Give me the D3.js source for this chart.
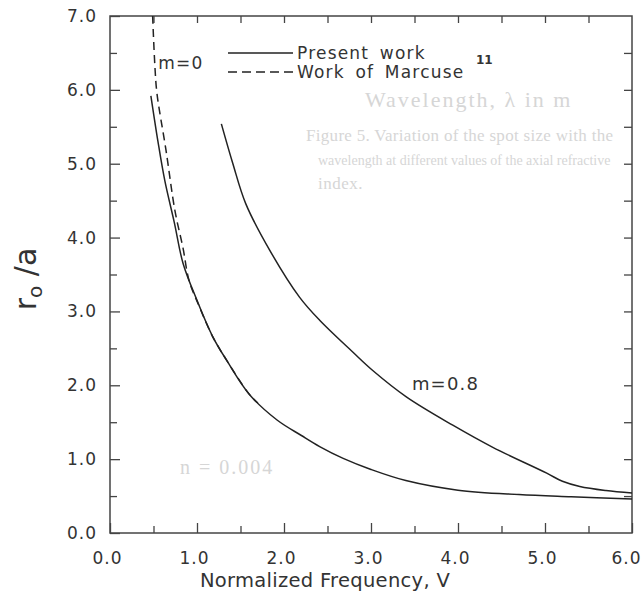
<!DOCTYPE html>
<html>
<head>
<meta charset="utf-8">
<script src="https://cdn.jsdelivr.net/npm/d3@7"></script>
<style>
  html, body { margin: 0; padding: 0; background: #fff; }
  svg { display: block; }
  text { font-family: "DejaVu Sans", sans-serif; fill: #333; }
</style>
</head>
<body>
<svg id="chart" width="642" height="596"></svg>
<script>
// --- data ---
// m=0, present work (solid)
const m0V = [0.47, 0.55, 0.63, 0.74, 0.84, 1.0, 1.18, 1.34, 1.6, 1.92, 2.2, 2.41, 2.68, 3.0, 3.4, 4.0, 4.7, 5.3, 6.0];
const m0R = [5.92, 5.31, 4.77, 4.2, 3.65, 3.15, 2.66, 2.34, 1.88, 1.53, 1.32, 1.17, 1.01, 0.86, 0.71, 0.58, 0.52, 0.49, 0.46];
// m=0, work of Marcuse (dashed)
const marV = [0.49, 0.517, 0.54, 0.644, 0.747, 0.839, 0.908, 1.0, 1.18, 1.34, 1.6, 1.7];
const marR = [7.0, 6.3, 5.95, 5.18, 4.36, 3.86, 3.42, 3.14, 2.66, 2.34, 1.88, 1.76];
// m=0.8, present work (solid)
const m8V = [1.28, 1.41, 1.56, 1.84, 2.18, 2.41, 2.79, 3.02, 3.41, 3.94, 4.4, 5.02, 5.2, 5.4, 5.7, 6.0];
const m8R = [5.54, 5.01, 4.46, 3.82, 3.19, 2.88, 2.45, 2.2, 1.84, 1.46, 1.16, 0.81, 0.7, 0.63, 0.575, 0.54];

const xMajor = [0, 1, 2, 3, 4, 5, 6];
const xMinor = [0.5, 1.5, 2.5, 3.5, 4.5, 5.5];
const yMajor = [0, 1, 2, 3, 4, 5, 6, 7];
const yMinor = [0.5, 1.5, 2.5, 3.5, 4.5, 5.5, 6.5];
const xLabel = 'Normalized Frequency, V';

const svg = d3.select('#chart');
const margin = { left: 110, top: 16, right: 10, bottom: 63 };
const W = 642 - margin.left - margin.right;
const H = 596 - margin.top - margin.bottom;

const x = d3.scaleLinear().domain([0, 6]).range([0, W]);
const y = d3.scaleLinear().domain([0, 7]).range([H, 0]);

// faint show-through from the other side of the page
const ghost = svg.append('g');
[
  { t: 'Wavelength, \u03bb in m', x: 365, y: 107, s: 22, ls: 2 },
  { t: 'Figure 5. Variation of the spot size with the', x: 306, y: 141, s: 17, ls: 0.3 },
  { t: 'wavelength at different values of the axial refractive', x: 318, y: 165, s: 14, ls: 0 },
  { t: 'index.', x: 318, y: 189, s: 17, ls: 0.5 },
  { t: 'n = 0.004', x: 180, y: 474, s: 20, ls: 2 }
].forEach(d => {
  ghost.append('text')
    .attr('x', d.x).attr('y', d.y)
    .attr('font-size', d.s)
    .attr('letter-spacing', d.ls)
    .style('font-family', '"Liberation Serif", serif')
    .style('fill', '#d6d6d6')
    .text(d.t);
});

const g = svg.append('g')
  .attr('transform', `translate(${margin.left},${margin.top})`);

// axes, ticks pointing inwards
function styleAxis(sel) {
  sel.select('.domain').remove();
  sel.selectAll('line').attr('stroke', '#444').attr('stroke-width', 1.3);
  sel.selectAll('text')
    .attr('font-size', 17)
    .attr('letter-spacing', 1)
    .style('fill', '#333');
}

g.append('g')
  .attr('transform', `translate(0,${H})`)
  .call(d3.axisBottom(x).tickValues(xMajor).tickSize(-10).tickPadding(19)
    .tickFormat(d3.format('.1f')))
  .call(styleAxis)
  .call(a => a.selectAll('text').attr('dx', d => d === 6 ? -6 : -3));
g.append('g')
  .attr('transform', `translate(0,${H})`)
  .call(d3.axisBottom(x).tickValues(xMinor).tickSize(-7).tickFormat(''))
  .call(styleAxis);

g.append('g')
  .call(d3.axisLeft(y).tickValues(yMajor).tickSize(-10).tickPadding(13)
    .tickFormat(d3.format('.1f')))
  .call(styleAxis);
g.append('g')
  .call(d3.axisLeft(y).tickValues(yMinor).tickSize(-7).tickFormat(''))
  .call(styleAxis);

g.append('g')
  .call(d3.axisTop(x).tickValues(xMinor.concat(xMajor.slice(1, -1))).tickSize(-7).tickFormat(''))
  .call(styleAxis);
g.append('g')
  .attr('transform', `translate(${W},0)`)
  .call(d3.axisRight(y).tickValues(yMinor.concat(yMajor.slice(1, -1))).tickSize(-8).tickFormat(''))
  .call(styleAxis);

g.append('rect')
  .attr('width', W).attr('height', H)
  .attr('fill', 'none')
  .attr('stroke', '#444')
  .attr('stroke-width', 1.5);

// curves
const line = d3.line()
  .x(d => x(d[0]))
  .y(d => y(d[1]))
  .curve(d3.curveCatmullRom.alpha(0.5));

const series = [
  { v: m0V, r: m0R, dash: null },
  { v: marV, r: marR, dash: '8,5' },
  { v: m8V, r: m8R, dash: null }
];
series.forEach(s => {
  g.append('path')
    .datum(d3.zip(s.v, s.r))
    .attr('d', line)
    .attr('fill', 'none')
    .attr('stroke', '#222')
    .attr('stroke-width', 1.5)
    .attr('stroke-dasharray', s.dash);
});

// curve labels
g.append('text')
  .attr('x', x(0.555)).attr('y', y(6.28))
  .attr('font-size', 17).attr('letter-spacing', 1.2)
  .text('m=0');
g.append('text')
  .attr('x', x(3.47)).attr('y', y(1.93))
  .attr('font-size', 18).attr('letter-spacing', 1.2)
  .text('m=0.8');

// legend
const legend = svg.append('g');
const legendItems = [
  { label: 'Present work', dash: null, y: 53 },
  { label: 'Work of Marcuse', dash: '9,5', y: 72 }
];
legendItems.forEach(d => {
  legend.append('line')
    .attr('x1', 228).attr('x2', 293)
    .attr('y1', d.y).attr('y2', d.y)
    .attr('stroke', '#222')
    .attr('stroke-width', 1.5)
    .attr('stroke-dasharray', d.dash);
  legend.append('text')
    .attr('x', 297).attr('y', d.y + 6)
    .attr('font-size', 17)
    .attr('letter-spacing', 1.2)
    .attr('word-spacing', 4)
    .text(d.label);
});
legend.append('text')
  .attr('x', 476).attr('y', 64)
  .attr('font-size', 12)
  .attr('font-weight', 'bold')
  .text('11');

// axis titles
svg.append('text')
  .attr('x', 325).attr('y', 587)
  .attr('text-anchor', 'middle')
  .attr('font-size', 19.5)
  .attr('letter-spacing', 0.3)
  .text(xLabel);

const yTitle = svg.append('text')
  .attr('transform', 'translate(36,279) rotate(-90)')
  .attr('text-anchor', 'middle')
  .attr('font-size', 30);
yTitle.append('tspan').text('r');
yTitle.append('tspan').attr('font-size', 20).attr('dy', 6).text('o');
yTitle.append('tspan').attr('dy', -6).text(' /a');
</script>
</body>
</html>
